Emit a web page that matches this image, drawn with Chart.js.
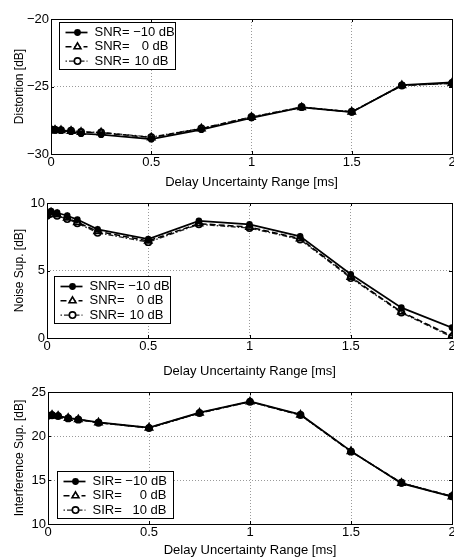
<!DOCTYPE html>
<html>
<head>
  <title>Delay Uncertainty</title>
  <script src="https://cdn.jsdelivr.net/npm/chart.js"></script>
  <style>
    html, body { margin: 0; overflow: hidden; }
    body { width: 454px; height: 557px; background: #fff; position: relative; }
    .box { position: absolute; left: 0; width: 464px; }
  </style>
</head>
<body>
  <div class="box" style="top:0px;height:190px"><canvas id="c1"></canvas></div>
  <div class="box" style="top:190px;height:189px"><canvas id="c2"></canvas></div>
  <div class="box" style="top:370px;height:188px"><canvas id="c3"></canvas></div>
  <script>
    // delay uncertainty range [ms]
    const delays = [0, 0.02, 0.05, 0.1, 0.15, 0.25, 0.5, 0.75, 1, 1.25, 1.5, 1.75, 2];
    const xTicks = [0, 0.5, 1, 1.5, 2];

    const snrLabels = ['SNR= \u221210 dB', 'SNR=   0 dB', 'SNR=  10 dB'];
    const sirLabels = ['SIR= \u221210 dB', 'SIR=   0 dB', 'SIR=  10 dB'];

    // distortion [dB]
    const distSnrM10 = [-28.25, -28.25, -28.27, -28.35, -28.5, -28.57, -28.9, -28.2, -27.33, -26.55, -26.9, -24.9, -24.7];
    const distSnr0   = [-28.2, -28.22, -28.25, -28.3, -28.38, -28.42, -28.78, -28.12, -27.27, -26.55, -26.88, -24.92, -24.75];
    const distSnr10  = [-28.18, -28.2, -28.23, -28.28, -28.36, -28.4, -28.75, -28.1, -27.25, -26.52, -26.87, -24.93, -24.77];
    const distTicks = [-30, -25, -20];

    // noise suppression [dB]
    const noiseSnrM10 = [9.16, 9.4, 9.28, 9.06, 8.77, 8.05, 7.33, 8.67, 8.42, 7.53, 4.72, 2.25, 0.77];
    const noiseSnr0   = [9.1, 9.3, 9.15, 8.9, 8.57, 7.9, 7.19, 8.47, 8.22, 7.36, 4.52, 1.93, 0.15];
    const noiseSnr10  = [9.05, 9.25, 9.05, 8.82, 8.5, 7.8, 7.1, 8.42, 8.15, 7.3, 4.45, 1.88, 0.07];
    const noiseTicks = [0, 5, 10];

    // interference suppression [dB]
    const intSirM10 = [22.36, 22.4, 22.3, 22.05, 21.9, 21.55, 20.96, 22.66, 23.94, 22.43, 18.28, 14.62, 13.1];
    const intSir0   = [22.33, 22.38, 22.28, 22.03, 21.88, 21.52, 20.93, 22.63, 23.9, 22.4, 18.25, 14.65, 13.12];
    const intSir10  = [22.3, 22.36, 22.26, 22.0, 21.86, 21.5, 20.9, 22.6, 23.88, 22.38, 18.22, 14.68, 13.15];
    const intTicks = [10, 15, 20, 25];

    const FONT = '"Liberation Sans", Arial, Helvetica, sans-serif';
    Chart.defaults.font.family = FONT;
    Chart.defaults.color = '#000';

    const styles = [
      { borderDash: [], pointStyle: 'circle', pointRadius: 2.6, pointBackgroundColor: '#000', borderColor: '#000', borderWidth: 1.7 },
      { borderDash: [6, 3], pointStyle: 'triangle', pointRadius: 4, pointBackgroundColor: 'rgba(0,0,0,0)', borderColor: '#000', borderWidth: 1.5 },
      { borderDash: [1.5, 2, 5, 2], pointStyle: 'circle', pointRadius: 3.2, pointBackgroundColor: 'rgba(0,0,0,0)', borderColor: '#222', borderWidth: 1.4 }
    ];

    function fmt(v) { return v < 0 ? '\u2212' + Math.abs(v) : String(v); }

    // frame, inward ticks and boxed legend in MATLAB style
    const matlabFrame = {
      id: 'matlabFrame',
      afterDraw(chart, args, opts) {
        const { ctx, chartArea: a, scales } = chart;
        ctx.save();
        ctx.strokeStyle = '#000';
        ctx.lineWidth = 1;
        ctx.setLineDash([]);
        ctx.strokeRect(Math.round(a.left) + 0.5, Math.round(a.top) + 0.5, Math.round(a.right - a.left), Math.round(a.bottom - a.top));
        ctx.beginPath();
        scales.x.ticks.forEach(t => {
          const px = Math.round(scales.x.getPixelForValue(t.value)) + 0.5;
          ctx.moveTo(px, a.bottom); ctx.lineTo(px, a.bottom - 3);
          ctx.moveTo(px, a.top); ctx.lineTo(px, a.top + 3);
        });
        scales.y.ticks.forEach(t => {
          const py = Math.round(scales.y.getPixelForValue(t.value)) + 0.5;
          ctx.moveTo(a.left, py); ctx.lineTo(a.left + 3, py);
          ctx.moveTo(a.right, py); ctx.lineTo(a.right - 3, py);
        });
        ctx.stroke();

        // legend box
        const w = 116, h = 47;
        const lx = Math.round(a.left + opts.dx) + 0.5;
        const ly = Math.round(opts.fromBottom != null ? a.bottom - opts.fromBottom - h : a.top + opts.dy) + 0.5;
        ctx.fillStyle = '#fff';
        ctx.fillRect(lx, ly, w, h);
        ctx.strokeStyle = '#000';
        ctx.lineWidth = 1;
        ctx.strokeRect(lx, ly, w, h);
        ctx.font = '13px ' + FONT;
        ctx.textBaseline = 'middle';
        chart.data.datasets.forEach((ds, i) => {
          const s = styles[i];
          const ry = ly + 10 + i * 14.3;
          ctx.strokeStyle = s.borderColor;
          ctx.lineWidth = s.borderWidth;
          ctx.setLineDash(s.borderDash);
          ctx.beginPath();
          ctx.moveTo(lx + 6, ry); ctx.lineTo(lx + 28, ry);
          ctx.stroke();
          ctx.setLineDash([]);
          const mx = lx + 18;
          ctx.beginPath();
          if (s.pointStyle === 'triangle') {
            const r = s.pointRadius;
            ctx.moveTo(mx, ry - r); ctx.lineTo(mx + r * 0.87, ry + r * 0.5); ctx.lineTo(mx - r * 0.87, ry + r * 0.5); ctx.closePath();
            ctx.fillStyle = '#fff'; ctx.fill();
          } else {
            ctx.arc(mx, ry, s.pointRadius, 0, Math.PI * 2);
            ctx.fillStyle = s.pointBackgroundColor === '#000' ? '#000' : '#fff';
            ctx.fill();
          }
          ctx.strokeStyle = '#000';
          ctx.lineWidth = 1.6;
          ctx.stroke();
          // text: prefix left, value part right aligned like the original
          const label = ds.label;
          const eq = label.indexOf('=') + 1;
          const pre = label.slice(0, eq), suf = label.slice(eq).trim();
          const tx = lx + 35;
          ctx.fillStyle = '#000';
          ctx.textAlign = 'left';
          ctx.fillText(pre, tx, ry);
          const preEnd = tx + ctx.measureText(pre).width + ctx.measureText(' ').width;
          const sw = ctx.measureText(suf).width;
          ctx.fillText(suf, Math.max(tx + 74 - sw, preEnd), ry);
        });
        ctx.restore();
      }
    };

    function makeChart(id, labels, series, yTicks, yTitle, cfg) {
      const yMin = yTicks[0], yMax = yTicks[yTicks.length - 1];
      return new Chart(document.getElementById(id), {
        type: 'line',
        data: {
          datasets: series.map((vals, i) => Object.assign({
            label: labels[i],
            data: delays.map((x, j) => ({ x: x, y: vals[j] })),
            fill: false,
            tension: 0,
            pointBorderColor: '#000',
            pointBorderWidth: i === 1 ? 1.8 : 1.5,
            order: i
          }, styles[i]))
        },
        options: {
          responsive: true,
          maintainAspectRatio: false,
          animation: false,
          events: [],
          // canvas is 464 wide; 12px right padding puts the plot edge at x=452
          layout: { padding: { top: cfg.top, right: 12, bottom: 0, left: 0 } },
          plugins: {
            legend: { display: false },
            tooltip: { enabled: false },
            matlabFrame: cfg.legend
          },
          scales: {
            x: {
              type: 'linear',
              min: 0, max: 2,
              afterBuildTicks(s) { s.ticks = xTicks.map(v => ({ value: v })); },
              afterFit(s) { s.height = cfg.xh; },
              ticks: { font: { size: 13 }, padding: 1, maxRotation: 0, autoSkip: false, callback: v => fmt(v) },
              grid: { color: '#9a9a9a', lineWidth: 1, drawTicks: false },
              border: { display: false, dash: [1, 2] },
              title: { display: true, text: 'Delay Uncertainty Range [ms]', font: { size: 13 }, padding: { top: 0, bottom: 0 } }
            },
            y: {
              min: yMin, max: yMax,
              afterBuildTicks(s) { s.ticks = yTicks.map(v => ({ value: v })); },
              afterFit(s) { s.width = cfg.yw; },
              ticks: { font: { size: 13 }, padding: 2, autoSkip: false, callback: v => fmt(v) },
              grid: { color: '#9a9a9a', lineWidth: 1, drawTicks: false },
              border: { display: false, dash: [1, 2] },
              title: { display: true, text: yTitle, font: { size: 12 }, padding: { top: 12, bottom: 0 } }
            }
          }
        },
        plugins: [matlabFrame]
      });
    }

    makeChart('c1', snrLabels, [distSnrM10, distSnr0, distSnr10], distTicks, 'Distortion [dB]',
      { top: 19, xh: 36, yw: 51, legend: { dx: 8, dy: 3 } });
    makeChart('c2', snrLabels, [noiseSnrM10, noiseSnr0, noiseSnr10], noiseTicks, 'Noise Sup. [dB]',
      { top: 13, xh: 41, yw: 47, legend: { dx: 7, fromBottom: 15 } });
    makeChart('c3', sirLabels, [intSirM10, intSir0, intSir10], intTicks, 'Interference Sup. [dB]',
      { top: 22, xh: 34, yw: 48, legend: { dx: 9, fromBottom: 6 } });
  </script>
</body>
</html>
